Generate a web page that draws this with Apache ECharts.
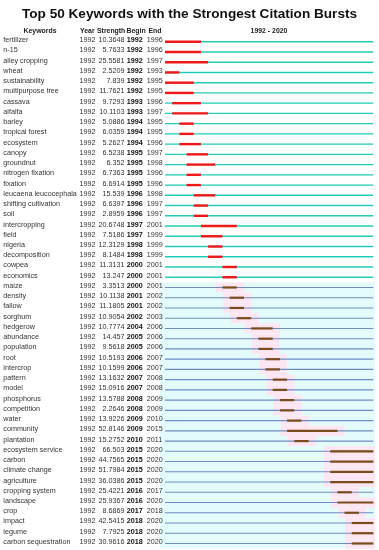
<!DOCTYPE html>
<html>
<head>
<meta charset="utf-8">
<script src="https://cdn.jsdelivr.net/npm/echarts@6/dist/echarts.min.js"></script>
<style>html,body{margin:0;padding:0;background:#fff}#c{width:379px;height:550px}</style>
</head>
<body>
<div id="c"></div>
<script>
const keywords = ["fertilizer","n-15","alley cropping","wheat","sustainability","multipurpose tree","cassava","alfalfa","barley","tropical forest","ecosystem","canopy","groundnut","nitrogen fixation","fixation","leucaena leucocephala","shifting cultivation","soil","intercropping","field","nigeria","decomposition","cowpea","economics","maize","density","fallow","sorghum","hedgerow","abundance","population","root","intercrop","pattern","model","phosphorus","competition","water","community","plantation","ecosystem service","carbon","climate change","agriculture","cropping system","landscape","crop","impact","legume","carbon sequestration"];
const years = Array(50).fill(1992);
const strengths = ["10.3648","5.7633","25.5581","2.5209","7.839","11.7621","9.7293","10.1103","5.0886","6.0359","5.2627","6.5238","6.352","6.7363","6.6914","15.539","6.6397","2.8959","20.6748","7.5186","12.3129","8.1484","11.3131","13.247","3.3513","10.1138","11.1805","10.9054","10.7774","14.457","9.5618","10.5193","10.1599","13.1632","15.0916","13.5788","2.2646","13.9226","52.8146","15.2752","66.503","44.7565","51.7984","36.0386","25.4221","25.9367","8.6869","42.5415","7.7925","30.9616"];
const begins = [1992,1992,1992,1992,1992,1992,1993,1993,1994,1994,1994,1995,1995,1995,1995,1996,1996,1996,1997,1997,1998,1998,2000,2000,2000,2001,2001,2002,2004,2005,2005,2006,2006,2007,2007,2008,2008,2009,2009,2010,2015,2015,2015,2015,2016,2016,2017,2018,2018,2018];
const ends = [1996,1996,1997,1993,1995,1995,1996,1997,1995,1995,1996,1997,1998,1996,1996,1998,1997,1997,2001,1999,1999,1999,2001,2001,2001,2002,2002,2003,2006,2006,2006,2007,2007,2008,2008,2009,2009,2010,2015,2011,2020,2020,2020,2020,2017,2020,2018,2020,2020,2020];
const yearStart = 1992, yearEnd = 2020;
const headers = ["Keywords","Year","Strength","Begin","End"];
const rangeLabel = "1992 - 2020";
const titleText = "Top 50 Keywords with the Strongest Citation Bursts";

const FONT = "'Liberation Sans', Arial, sans-serif";
const splitIndex = 24; // rows from "maize" on use the second colour scheme

const chart = echarts.init(document.getElementById('c'), null, {renderer: 'canvas'});
const rows = keywords.map((k, i) => [i, begins[i], ends[i]]);
const hf = 'bold 6.9px ' + FONT;

chart.setOption({
  animation: false,
  backgroundColor: '#fff',
  title: {
    text: titleText, left: 'center', top: 2,
    textStyle: {fontSize: 13.6, fontWeight: 'bold', color: '#111', fontFamily: FONT}
  },
  grid: {left: 165, right: 379 - 373.3, top: 36.6, height: 512, containLabel: false},
  xAxis: {type: 'value', min: yearStart, max: yearEnd + 1, show: false},
  yAxis: {type: 'category', data: keywords, inverse: true, show: false},
  graphic: [
    {type: 'text', x: 40, y: 30.8, style: {text: headers[0], font: hf, fill: '#222', align: 'center', verticalAlign: 'middle'}},
    {type: 'text', x: 80, y: 30.8, style: {text: headers[1], font: hf, fill: '#222', align: 'left', verticalAlign: 'middle'}},
    {type: 'text', x: 97, y: 30.8, style: {text: headers[2], font: hf, fill: '#222', align: 'left', verticalAlign: 'middle'}},
    {type: 'text', x: 126.5, y: 30.8, style: {text: headers[3], font: hf, fill: '#222', align: 'left', verticalAlign: 'middle'}},
    {type: 'text', x: 148.5, y: 30.8, style: {text: headers[4], font: hf, fill: '#222', align: 'left', verticalAlign: 'middle'}},
    {type: 'text', x: 269, y: 30.8, style: {text: rangeLabel, font: hf, fill: '#222', align: 'center', verticalAlign: 'middle'}}
  ],
  series: [
    {
      type: 'custom', clip: false, z: 1,
      encode: {y: 0, x: [1, 2]},
      data: rows,
      renderItem: function (params, api) {
        const i = api.value(0), b = api.value(1), e = api.value(2);
        const c = api.coord([yearStart, i]);
        const y = c[1];
        const band = api.size([0, 1])[1];
        const x0 = c[0];
        const x1 = api.coord([yearEnd + 1, i])[0];
        const bx0 = api.coord([b, i])[0];
        const bx1 = api.coord([e + 1, i])[0];
        const children = [];
        const second = i >= splitIndex;
        if (second) {
          const cx0 = api.coord([yearStart - 0.7, i])[0];
          const cx1 = api.coord([yearEnd + 1.25, i])[0];
          children.push({type: 'rect', shape: {x: cx0, y: y - band / 2, width: cx1 - cx0, height: band}, style: {fill: '#E4FBFB'}});
          const px0 = api.coord([b - 0.9, i])[0];
          const px1 = Math.min(api.coord([e + 2, i])[0], cx1);
          children.push({type: 'rect', shape: {x: px0, y: y - band / 2, width: px1 - px0, height: band}, style: {fill: '#FDE6F2'}});
        }
        children.push({type: 'line', shape: {x1: x0, y1: y, x2: x1, y2: y}, style: {stroke: second ? '#6F8DC2' : '#22CCB8', lineWidth: second ? 1.1 : 1.4}});
        children.push({type: 'line', shape: {x1: bx0, y1: y, x2: bx1, y2: y}, style: {stroke: second ? '#7A4B1C' : '#F01818', lineWidth: second ? 2.2 : 2.4}});
        return {type: 'group', children: children};
      }
    },
    {
      type: 'custom', clip: false, z: 2,
      encode: {y: 0},
      data: rows,
      renderItem: function (params, api) {
        const i = api.value(0);
        const y = api.coord([yearStart, i])[1] - 1.5;
        const f = '7.2px ' + FONT;
        const fb = 'bold 7.2px ' + FONT;
        return {type: 'group', children: [
          {type: 'text', x: 3.3, y: y, style: {text: keywords[i], font: f, fill: '#333', align: 'left', verticalAlign: 'middle'}},
          {type: 'text', x: 79.5, y: y, style: {text: String(years[i]), font: f, fill: '#333', align: 'left', verticalAlign: 'middle'}},
          {type: 'text', x: 124.6, y: y, style: {text: strengths[i], font: f, fill: '#333', align: 'right', verticalAlign: 'middle'}},
          {type: 'text', x: 126.7, y: y, style: {text: String(begins[i]), font: fb, fill: '#111', align: 'left', verticalAlign: 'middle'}},
          {type: 'text', x: 146.8, y: y, style: {text: String(ends[i]), font: f, fill: '#333', align: 'left', verticalAlign: 'middle'}}
        ]};
      }
    }
  ]
});
</script>
</body>
</html>
